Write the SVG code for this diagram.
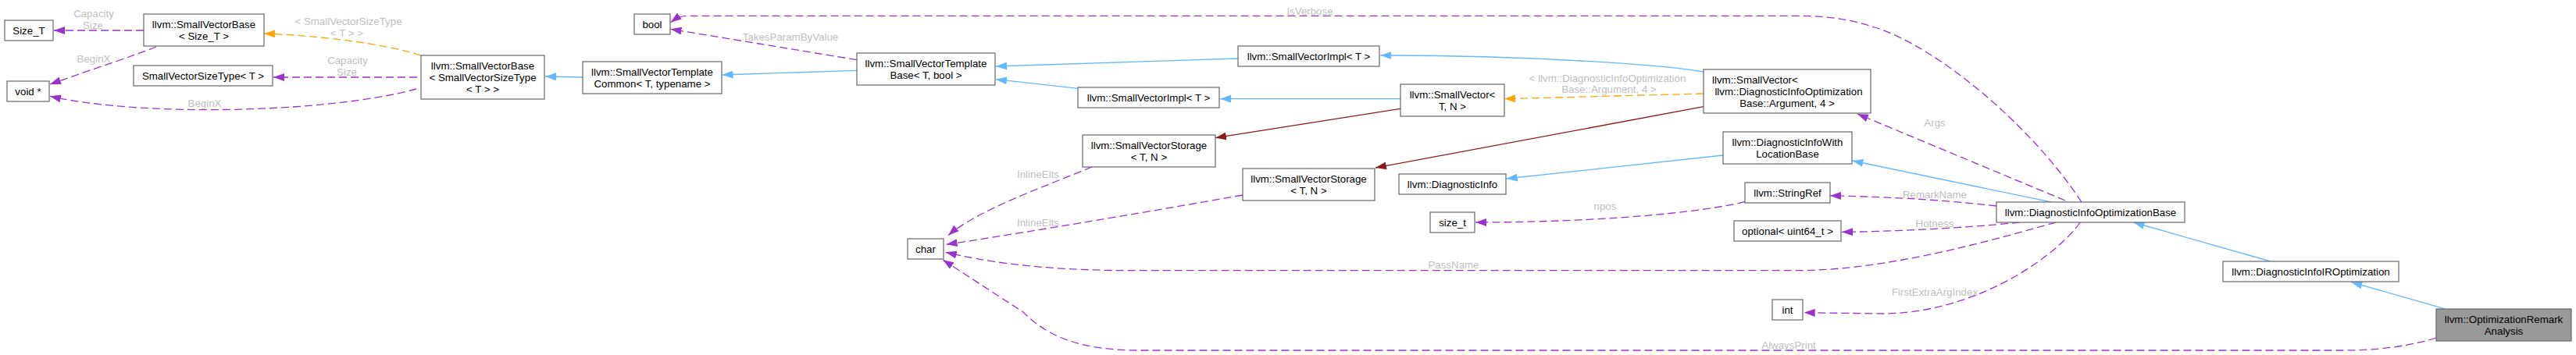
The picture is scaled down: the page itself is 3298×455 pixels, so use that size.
<svg xmlns="http://www.w3.org/2000/svg" width="3298" height="455" viewBox="0 0 3298 455">
<style>
.node rect{fill:#ffffff;stroke:#666666;stroke-width:1.2}
.node.hl rect{fill:#999999}
.node text{font-family:"Liberation Sans",Arial,sans-serif;font-size:13.3px;text-anchor:middle;fill:#000000}
.e{fill:none;stroke-width:1.3}
.inh{stroke:#63b8ff;marker-end:url(#ab)}
.use{stroke:#9a32cd;stroke-dasharray:10,5;marker-end:url(#ap)}
.tpl{stroke:#ffa500;stroke-dasharray:10,5;marker-end:url(#ao)}
.inst{stroke:#8b1a1a;marker-end:url(#ar)}
.lbl{font-family:"Liberation Sans",Arial,sans-serif;font-size:13.3px;text-anchor:middle;fill:#bebebe}
</style>
<defs>
<marker id="ab" viewBox="0 0 14 10" refX="14" refY="5" markerWidth="14" markerHeight="10" markerUnits="userSpaceOnUse" orient="auto"><path d="M0,0 L14,5 L0,10 z" fill="#63b8ff"/></marker>
<marker id="ap" viewBox="0 0 14 10" refX="14" refY="5" markerWidth="14" markerHeight="10" markerUnits="userSpaceOnUse" orient="auto"><path d="M0,0 L14,5 L0,10 z" fill="#9a32cd"/></marker>
<marker id="ao" viewBox="0 0 14 10" refX="14" refY="5" markerWidth="14" markerHeight="10" markerUnits="userSpaceOnUse" orient="auto"><path d="M0,0 L14,5 L0,10 z" fill="#ffa500"/></marker>
<marker id="ar" viewBox="0 0 14 10" refX="14" refY="5" markerWidth="14" markerHeight="10" markerUnits="userSpaceOnUse" orient="auto"><path d="M0,0 L14,5 L0,10 z" fill="#8b1a1a"/></marker>
</defs>
<rect width="3298" height="455" fill="#ffffff"/>
<g id="connectors">
<path class="e inh" d="M3129.5,395.7 L3010.4,361.7"/>
<path class="e inh" d="M2907,335 L2731.5,285"/>
<path class="e inh" d="M2626,259 L2371.4,206"/>
<path class="e inh" d="M2206,199 L1928.7,229"/>
<path class="e inh" d="M2181,92 C2120,82 1950,71 1767.4,71"/>
<path class="e inh" d="M1585,75 L1275,85"/>
<path class="e inh" d="M1793,126.7 L1562,126.7"/>
<path class="e inh" d="M1380,113.3 L1275,101.7"/>
<path class="e inh" d="M1097,90.3 L924.6,96"/>
<path class="e inh" d="M746,99 L698,98"/>
<path class="e tpl" d="M539,71 C490,55 400,45 338,43"/>
<path class="e tpl" d="M2181,120 L1926,126.7"/>
<path class="e inst" d="M1793,139.3 L1556,176.7"/>
<path class="e inst" d="M2181,136.7 L1761,215"/>
<path class="e use" d="M184,39 L69,39"/>
<path class="e use" d="M200,60 C170,72 100,95 64,108"/>
<path class="e use" d="M534,99 L350,99"/>
<path class="e use" d="M533,114 C420,145 180,150 64,123.3"/>
<path class="e use" d="M1097,76.7 L858.5,37.3"/>
<path class="e use" d="M2665,259 C2600,160 2480,60 2400,35 C2370,25 2340,20.3 2300,20.3 L880,20.3 C870,20.3 865,24 858.5,28.7"/>
<path class="e use" d="M2644,257 L2378,146"/>
<path class="e use" d="M2556,264 C2480,255 2400,252 2343,250.7"/>
<path class="e use" d="M2585.7,285 C2520,292 2420,297 2358,297.3"/>
<path class="e use" d="M2632,285 C2560,305 2420,346.7 2300,346.7 L1450,346.7 C1330,346.7 1260,335 1210.7,323.3"/>
<path class="e use" d="M2663,285 C2640,320 2540,400 2413,402 L2309.7,400.7"/>
<path class="e use" d="M3119,433 C3080,445 3040,449 3000,449 L1460,449 C1380,449 1340,430 1310,400 L1207,333"/>
<path class="e use" d="M1398,214 C1340,238 1250,270 1214,301.7"/>
<path class="e use" d="M1591,250 C1450,275 1300,300 1211.6,313.3"/>
<path class="e use" d="M2234,258.7 C2150,278 2000,285 1889,285"/>
<text class="lbl" x="120" y="21.5">Capacity</text>
<text class="lbl" x="119" y="36.5">Size</text>
<text class="lbl" x="120" y="79.5">BeginX</text>
<text class="lbl" x="446" y="31.5">&lt; SmallVectorSizeType</text>
<text class="lbl" x="444" y="46.5">&lt; T &gt; &gt;</text>
<text class="lbl" x="445" y="81.5">Capacity</text>
<text class="lbl" x="444" y="96.5">Size</text>
<text class="lbl" x="262" y="136.5">BeginX</text>
<text class="lbl" x="1012" y="52">TakesParamByValue</text>
<text class="lbl" x="1677" y="18.5">IsVerbose</text>
<text class="lbl" x="2058" y="104.5">&lt; llvm::DiagnosticInfoOptimization</text>
<text class="lbl" x="2060" y="118.8">Base::Argument, 4 &gt;</text>
<text class="lbl" x="2477" y="162">Args</text>
<text class="lbl" x="2477" y="253.8">RemarkName</text>
<text class="lbl" x="2055" y="268.5">npos</text>
<text class="lbl" x="2477" y="291">Hotness</text>
<text class="lbl" x="1861" y="343.8">PassName</text>
<text class="lbl" x="2477" y="378.8">FirstExtraArgIndex</text>
<text class="lbl" x="2290" y="446.8">AlwaysPrint</text>
<text class="lbl" x="1329" y="227.8">InlineElts</text>
<text class="lbl" x="1329" y="290.2">InlineElts</text>
</g>
<g id="n_optremark" class="node hl"><rect x="3119" y="396" width="173" height="41"/><text x="3205.5" y="414">llvm::OptimizationRemark</text><text x="3205.5" y="429">Analysis</text></g>
<g id="n_diiropt" class="node"><rect x="2846" y="335" width="225" height="26"/><text x="2958.5" y="353">llvm::DiagnosticInfoIROptimization</text></g>
<g id="n_dioptbase" class="node"><rect x="2556" y="259" width="241" height="26"/><text x="2676.5" y="277">llvm::DiagnosticInfoOptimizationBase</text></g>
<g id="n_diwithloc" class="node"><rect x="2206" y="169" width="165" height="41"/><text x="2288.5" y="187">llvm::DiagnosticInfoWith</text><text x="2288.5" y="202">LocationBase</text></g>
<g id="n_diaginfo" class="node"><rect x="1791" y="223" width="137" height="26"/><text x="1859.5" y="241">llvm::DiagnosticInfo</text></g>
<g id="n_bool" class="node"><rect x="812" y="18" width="46" height="26"/><text x="835" y="36">bool</text></g>
<g id="n_svarg" class="node"><rect x="2181" y="89" width="214" height="56"/><text x="2192" y="107" style="text-anchor:start">llvm::SmallVector&lt;</text><text x="2290" y="122">llvm::DiagnosticInfoOptimization</text><text x="2288" y="137">Base::Argument, 4 &gt;</text></g>
<g id="n_svimpl1" class="node"><rect x="1585" y="59" width="181" height="26"/><text x="1675.5" y="77">llvm::SmallVectorImpl&lt; T &gt;</text></g>
<g id="n_svtb" class="node"><rect x="1097" y="68" width="177" height="41"/><text x="1185.5" y="86">llvm::SmallVectorTemplate</text><text x="1185.5" y="101">Base&lt; T, bool &gt;</text></g>
<g id="n_svtc" class="node"><rect x="746" y="79" width="178" height="41"/><text x="835" y="97">llvm::SmallVectorTemplate</text><text x="835" y="112">Common&lt; T, typename &gt;</text></g>
<g id="n_svbsvst" class="node"><rect x="539" y="71" width="158" height="56"/><text x="618" y="89">llvm::SmallVectorBase</text><text x="618" y="104">&lt; SmallVectorSizeType</text><text x="618" y="119">&lt; T &gt; &gt;</text></g>
<g id="n_svbsizet" class="node"><rect x="184" y="18" width="154" height="41"/><text x="261" y="36">llvm::SmallVectorBase</text><text x="261" y="51">&lt; Size_T &gt;</text></g>
<g id="n_sizeT" class="node"><rect x="6" y="26" width="62" height="26"/><text x="37" y="44">Size_T</text></g>
<g id="n_void" class="node"><rect x="9" y="104" width="54" height="26"/><text x="36" y="122">void *</text></g>
<g id="n_svst" class="node"><rect x="171" y="84" width="178" height="26"/><text x="260" y="102">SmallVectorSizeType&lt; T &gt;</text></g>
<g id="n_svimpl2" class="node"><rect x="1380" y="112" width="181" height="26"/><text x="1470.5" y="130">llvm::SmallVectorImpl&lt; T &gt;</text></g>
<g id="n_svtn" class="node"><rect x="1793" y="108" width="133" height="41"/><text x="1859.5" y="126">llvm::SmallVector&lt;</text><text x="1859.5" y="141">T, N &gt;</text></g>
<g id="n_storage1" class="node"><rect x="1386" y="173" width="170" height="41"/><text x="1471" y="191">llvm::SmallVectorStorage</text><text x="1471" y="206">&lt; T, N &gt;</text></g>
<g id="n_storage2" class="node"><rect x="1591" y="216" width="169" height="41"/><text x="1675.5" y="234">llvm::SmallVectorStorage</text><text x="1675.5" y="249">&lt; T, N &gt;</text></g>
<g id="n_char" class="node"><rect x="1162" y="306" width="46" height="26"/><text x="1185" y="324">char</text></g>
<g id="n_stringref" class="node"><rect x="2234" y="234" width="109" height="26"/><text x="2288.5" y="252">llvm::StringRef</text></g>
<g id="n_size_t" class="node"><rect x="1831" y="272" width="57" height="26"/><text x="1859.5" y="290">size_t</text></g>
<g id="n_optional" class="node"><rect x="2220" y="283" width="137" height="26"/><text x="2288.5" y="301">optional&lt; uint64_t &gt;</text></g>
<g id="n_int" class="node"><rect x="2269" y="384" width="39" height="26"/><text x="2288.5" y="402">int</text></g>
</svg>
